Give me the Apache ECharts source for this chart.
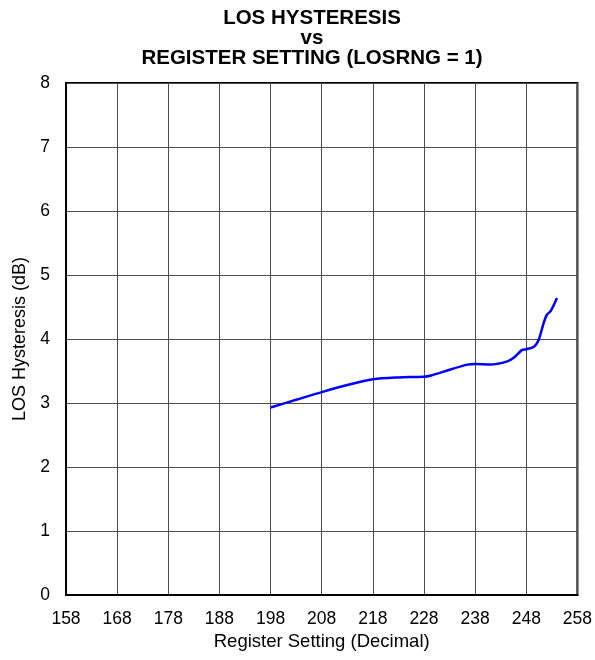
<!DOCTYPE html>
<html>
<head>
<meta charset="utf-8">
<script src="https://cdn.jsdelivr.net/npm/echarts@6/dist/echarts.min.js"></script>
<style>
  html, body { margin: 0; padding: 0; background: #fff; }
  #root { width: 595px; height: 660px; }
</style>
</head>
<body>
<div id="root"></div>
<script>
// register setting (decimal) and hysteresis (dB)
const registerSetting = [198, 203, 208, 213, 218, 223, 228, 229.4, 233, 236.5, 238, 241, 244.3, 245.6, 247.2, 248, 249.5, 250.4, 251.4, 252, 252.8, 254];
const hysteresis = [2.93, 3.05, 3.17, 3.28, 3.37, 3.40, 3.41, 3.43, 3.52, 3.60, 3.61, 3.60, 3.65, 3.71, 3.83, 3.84, 3.88, 3.98, 4.25, 4.375, 4.44, 4.64];

const titleText = 'LOS HYSTERESIS\nvs\nREGISTER SETTING (LOSRNG = 1)';
const xName = 'Register Setting (Decimal)';
const yName = 'LOS Hysteresis (dB)';
const FONT = 'Liberation Sans';

let seriesData = registerSetting.map((x, i) => [x, hysteresis[i]]);

let myChart = echarts.init(document.getElementById('root'), null, { renderer: 'canvas' });

let option = {
    animation: false,
    title: {
        text: titleText,
        left: 312,
        top: 8,
        padding: 0,
        textAlign: 'center',
        textStyle: {
            fontFamily: FONT,
            fontWeight: 'bold',
            fontSize: 20.5,
            lineHeight: 20,
            color: '#000'
        }
    },
    grid: {
        left: 66,
        right: 15,
        top: 83,
        bottom: 65,
        show: true,
        borderColor: '#000',
        borderWidth: 2
    },
    xAxis: {
        type: 'value',
        min: 158,
        max: 258,
        interval: 10,
        name: xName,
        nameLocation: 'middle',
        nameGap: 32,
        nameTextStyle: { fontFamily: FONT, fontSize: 18.5, color: '#000' },
        axisLine: { show: true, lineStyle: { color: '#000', width: 2 } },
        axisTick: { show: false },
        axisLabel: { fontFamily: FONT, fontSize: 17.5, color: '#000', margin: 15 },
        splitLine: { show: true, lineStyle: { color: '#4d4d4d', width: 1 } }
    },
    yAxis: {
        type: 'value',
        min: 0,
        max: 8,
        interval: 1,
        name: yName,
        nameLocation: 'middle',
        nameGap: 36,
        nameTextStyle: { fontFamily: FONT, fontSize: 18, color: '#000' },
        axisLine: { show: true, lineStyle: { color: '#000', width: 2 } },
        axisTick: { show: false },
        axisLabel: { fontFamily: FONT, fontSize: 17.5, color: '#000', margin: 16 },
        splitLine: { show: true, lineStyle: { color: '#4d4d4d', width: 1 } }
    },
    series: [{
        type: 'line',
        data: seriesData,
        smooth: 0.3,
        showSymbol: false,
        lineStyle: { color: '#0000ff', width: 2.5 }
    }]
};

myChart.setOption(option);
</script>
</body>
</html>
